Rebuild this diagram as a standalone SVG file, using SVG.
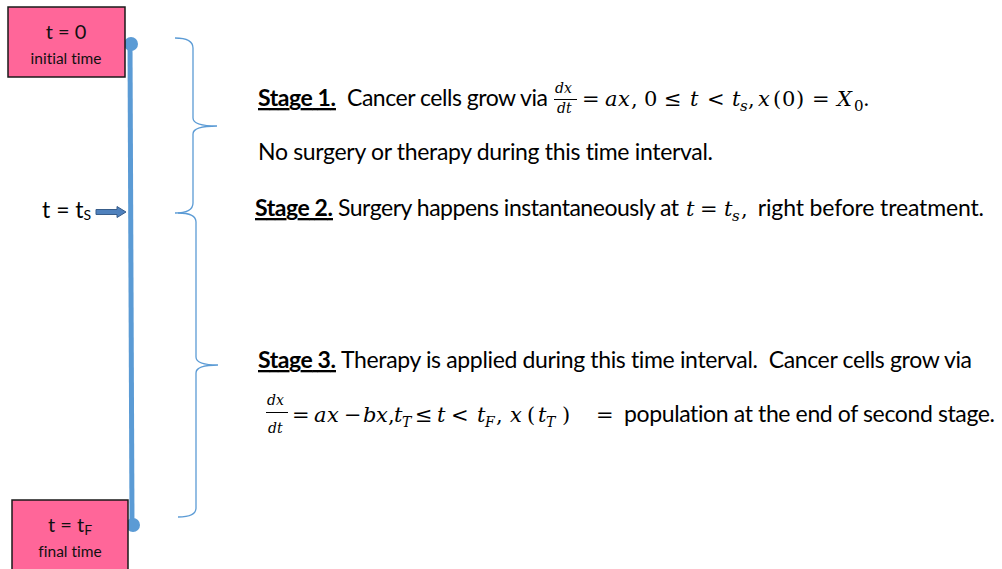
<svg xmlns="http://www.w3.org/2000/svg" width="1002" height="569" viewBox="0 0 1002 569">
<style>
text{font-variant-ligatures:none;font-feature-settings:"liga" 0,"clig" 0}
.t{font-family:Lato,"Open Sans",sans-serif;font-size:23px;fill:#000;white-space:pre}
.b{font-weight:bold;text-decoration:underline}
.m{font-family:"DejaVu Serif",serif;font-style:italic;font-size:21px;fill:#000}
.r{font-style:normal}
.f{font-family:"DejaVu Serif",serif;font-style:italic;font-size:14px;fill:#000}
.box{fill:#FF6699;stroke:#1a1a1a;stroke-width:1.5}
.bt{font-family:Lato,"Open Sans",sans-serif;fill:#111;text-anchor:middle}
.brace{fill:none;stroke:#5B9BD5;stroke-width:1.3}
</style>
<rect width="1002" height="569" fill="#fff"/>
<g id="timeline">
<line x1="130" y1="44" x2="132" y2="525" stroke="#5B9BD5" stroke-width="5"/>
<circle cx="131" cy="44" r="7" fill="#5B9BD5"/>
<circle cx="133" cy="525" r="7" fill="#5B9BD5"/>
</g>
<g id="start">
<rect class="box" x="8" y="7" width="117" height="70"/>
<text class="bt" x="66" y="39" font-size="20">t = 0</text>
<text class="bt" x="66" y="64" font-size="15.5">initial time</text>
</g>
<g id="end">
<rect class="box" x="12" y="500" width="116" height="75"/>
<text class="bt" x="70" y="532" font-size="20">t = t<tspan font-size="14" dy="3">F</tspan></text>
<text class="bt" x="70" y="557" font-size="15.5">final time</text>
</g>
<g id="surgery">
<text class="t" x="42" y="218" font-size="19">t = t<tspan font-size="14" dy="2">S</tspan></text>
</g>
<g id="connectors">
<polygon points="96,209.5 117,209.5 117,206.5 126,212 117,217.5 117,214.5 96,214.5" fill="#4F81BD" stroke="#385D8A" stroke-width="1"/>
<path class="brace" d="M175,38 Q193,38 193,48 L193,118 Q193,126 217,126 Q193,126 193,134 L193,203 Q193,213 175,213"/>
<path class="brace" d="M178,213 Q196,213 196,222 L196,357 Q196,365 218,365 Q196,365 196,373 L196,508 Q196,517 178,517"/>
</g>
<g id="stage1">
<text class="t b" x="258" y="106" textLength="78">Stage 1.</text>
<text class="t" x="347" y="106" textLength="201">Cancer cells grow via</text>
<text class="f" x="555" y="93">dx</text>
<line x1="554" y1="99.5" x2="577" y2="99.5" stroke="#000" stroke-width="1"/>
<text class="f" x="557" y="113">dt</text>
<text class="m" y="106"><tspan class="r" x="582">=</tspan><tspan x="605">a</tspan><tspan x="618">x</tspan><tspan class="r" x="631">,</tspan><tspan class="r" x="644">0</tspan><tspan class="r" x="664">≤</tspan><tspan x="690">t</tspan><tspan class="r" x="707">&lt;</tspan><tspan x="732">t</tspan><tspan font-size="15" x="740" dy="5">s</tspan><tspan class="r" x="748" dy="-5">,</tspan><tspan x="758">x</tspan><tspan class="r" x="773">(</tspan><tspan class="r" x="782">0</tspan><tspan class="r" x="796">)</tspan><tspan class="r" x="812">=</tspan><tspan x="837">X</tspan><tspan class="r" font-size="15" x="854" dy="5">0</tspan><tspan class="r" x="863" dy="-5">.</tspan></text>
<text class="t" x="258" y="160" textLength="455">No surgery or therapy during this time interval.</text>
</g>
<g id="stage2">
<text class="t b" x="255" y="216" textLength="78">Stage 2.</text>
<text class="t" x="338" y="216" textLength="341">Surgery happens instantaneously at</text>
<text class="m" y="216"><tspan x="686">t</tspan><tspan class="r" x="700">=</tspan><tspan x="724">t</tspan><tspan font-size="15" x="732" dy="5">s</tspan><tspan class="r" x="741" dy="-5">,</tspan></text>
<text class="t" x="752" y="216" textLength="232"> right before treatment.</text>
</g>
<g id="stage3">
<text class="t b" x="258" y="368" textLength="78">Stage 3.</text>
<text class="t" x="341" y="368" textLength="631">Therapy is applied during this time interval.  Cancer cells grow via</text>
<text class="f" x="267" y="405">dx</text>
<line x1="266" y1="412.5" x2="288" y2="412.5" stroke="#000" stroke-width="1"/>
<text class="f" x="268" y="433">dt</text>
<text class="m" y="422"><tspan class="r" x="292">=</tspan><tspan x="314">a</tspan><tspan x="327">x</tspan><tspan class="r" x="344">−</tspan><tspan x="363">b</tspan><tspan x="376">x</tspan><tspan class="r" x="388">,</tspan><tspan x="394">t</tspan><tspan font-size="14" x="402" dy="5">T</tspan><tspan class="r" x="415" dy="-5">≤</tspan><tspan x="437">t</tspan><tspan class="r" x="451">&lt;</tspan><tspan x="477">t</tspan><tspan font-size="14" x="485" dy="5">F</tspan><tspan class="r" x="496" dy="-5">,</tspan><tspan x="510">x</tspan><tspan class="r" x="527">(</tspan><tspan x="538">t</tspan><tspan font-size="14" x="546" dy="5">T</tspan><tspan class="r" x="562" dy="-5">)</tspan><tspan class="r" x="596">=</tspan></text>
<text class="t" x="624" y="422" textLength="371">population at the end of second stage.</text>
</g>
</svg>
